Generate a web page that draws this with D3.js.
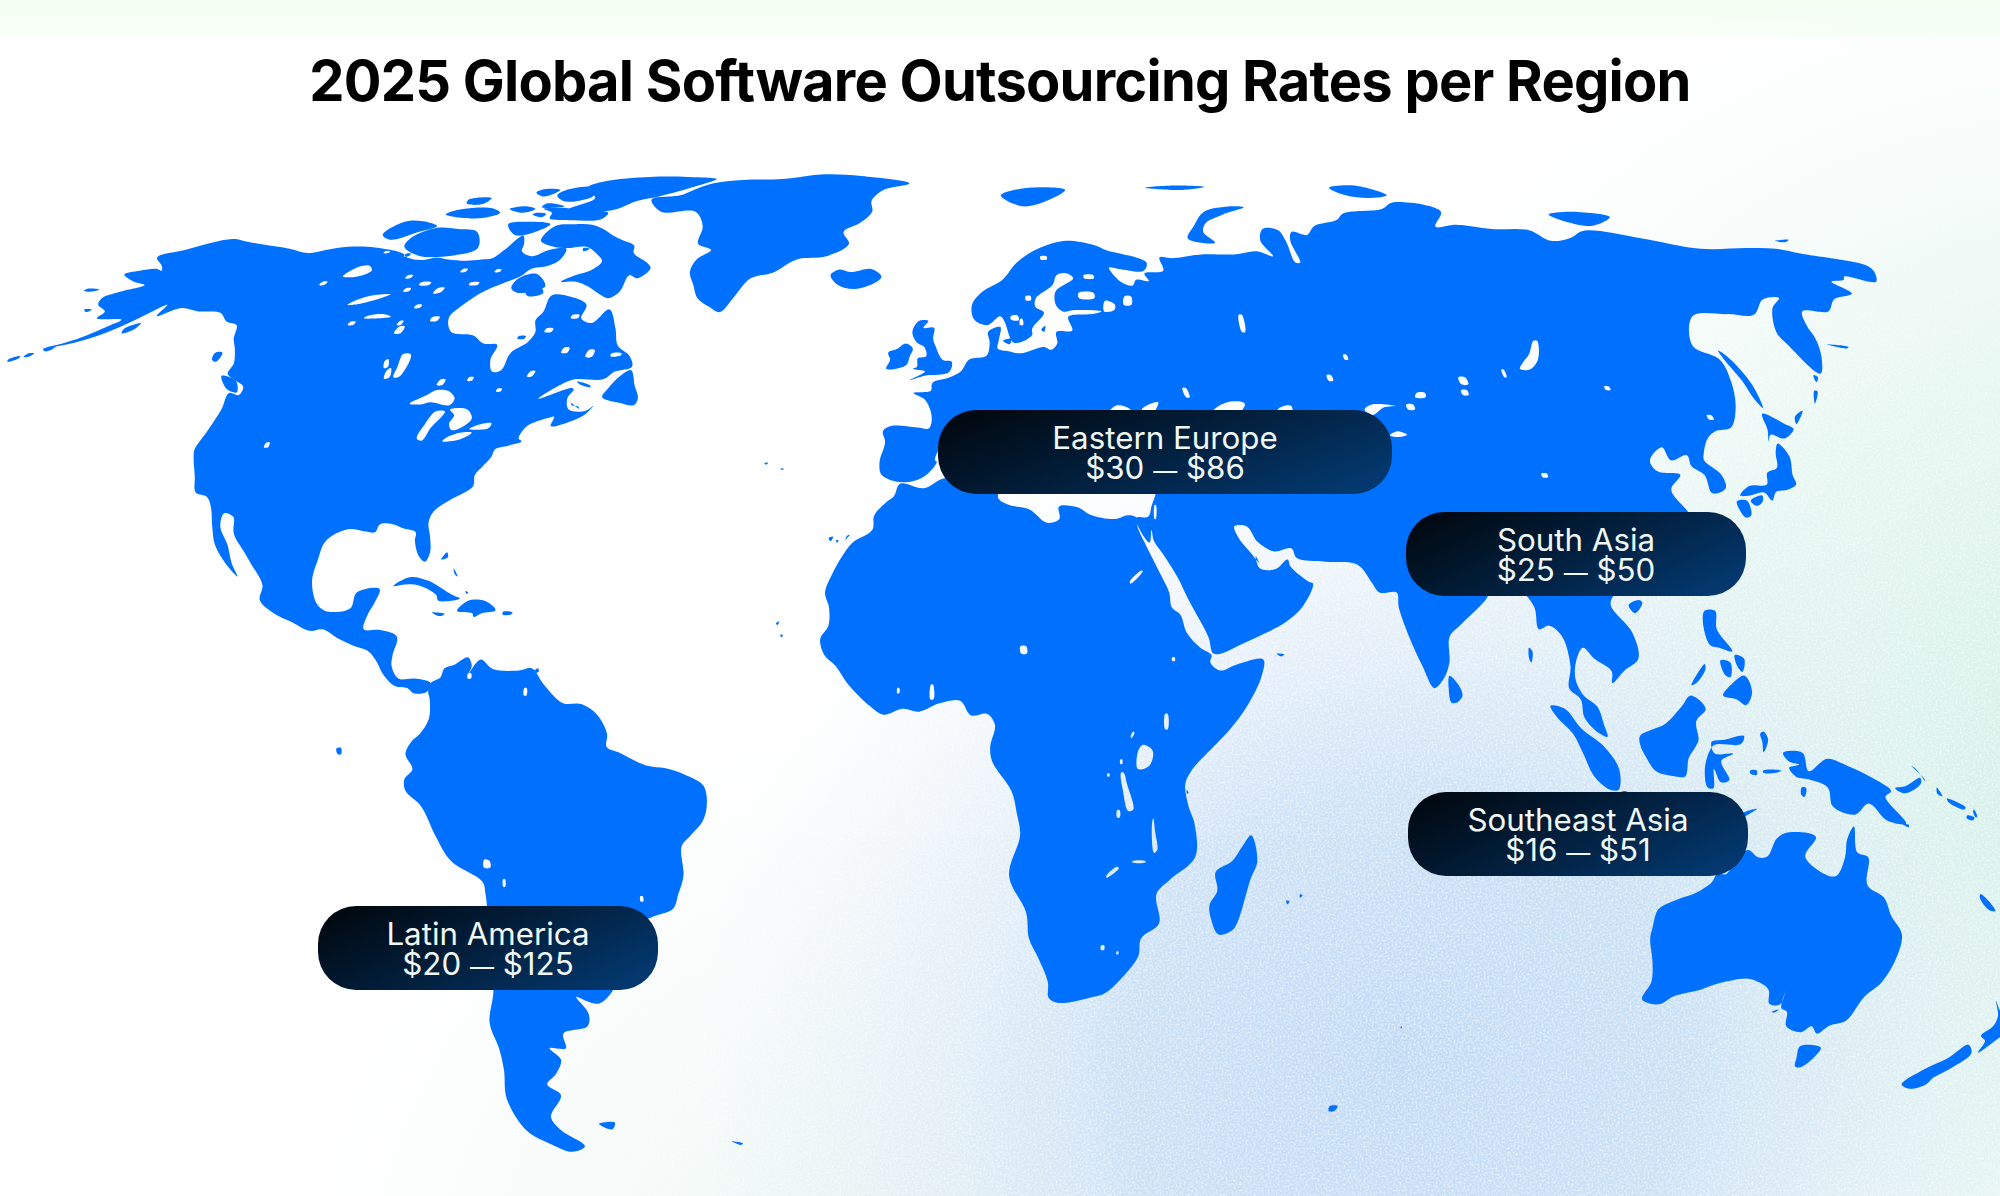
<!DOCTYPE html>
<html><head><meta charset="utf-8">
<script src="https://cdn.jsdelivr.net/npm/d3@7/dist/d3.min.js"></script>
<style>html,body{margin:0;padding:0;background:#fff}svg{display:block}</style>
</head><body><div id="chart"></div>
<script>
// ---- chart content
const chartTitle = "2025 Global Software Outsourcing Rates per Region";
const regions = ["Eastern Europe","South Asia","Southeast Asia","Latin America"];
const rateLow = [30,25,16,20];
const rateHigh = [86,50,51,125];

// ---- Robinson table
const robLat = [0,5,10,15,20,25,30,35,40,45,50,55,60,65,70,75,80,85,90];
const robLen = [1,.9986,.9954,.99,.9822,.973,.96,.9427,.9216,.8962,.8679,.835,.7986,.7597,.7186,.6732,.6213,.5722,.5322];
const robDepth = [0,.062,.124,.186,.248,.31,.372,.434,.4958,.5571,.6176,.6769,.7346,.7903,.8435,.8936,.9394,.9761,1];

// ---- landmasses, [lon,lat]
const northAmerica = [[-168,65.6],[-166,66.2],[-163,66.5],[-161.5,66.2],[-163,67],[-166.5,68.3],[-163,69.5],[-156.5,71.3],[-152,70.8],[-148,70.4],[-141,69.7],[-136,69],[-133,69.5],[-129,70],[-125,70],[-121,69.7],[-116,69],[-114,68.3],[-110,67.9],[-108,68.3],[-105,68],[-101,67.8],[-98,68],[-96,68.2],[-95,69.5],[-94,71.9],[-92,70.5],[-91,69.3],[-88,68.5],[-85.5,69.5],[-82,69.7],[-81.5,68],[-83,67],[-86,66.5],[-87,65.3],[-90,64],[-92,63],[-94,61],[-94.8,59],[-92.5,57],[-88,56.5],[-85,55.3],[-82.3,55.1],[-82,53],[-80.5,51.3],[-79,51.5],[-79,54],[-77,55.5],[-76.7,57],[-78,58.7],[-77.5,60],[-78,62.4],[-74,62.2],[-70,61],[-69.5,59],[-67,58.3],[-65,60.3],[-62,57.5],[-60,55],[-57,53.5],[-55.8,52],[-58.5,51.3],[-60,50.2],[-65,50.2],[-67,49.5],[-70,47.5],[-65,49],[-64.5,48.8],[-65,47.5],[-64,46],[-61,45.8],[-60,46.5],[-61,45.2],[-64,44],[-66,43.7],[-66,45],[-67,44.8],[-70,43.7],[-70.7,42],[-70,41.6],[-72,41],[-74,40.5],[-74.2,39.5],[-75.3,38],[-76,37],[-75.7,35.5],[-77,34.5],[-79,33.5],[-81,32],[-81.3,30.5],[-80.5,28.5],[-80,26.5],[-80.5,25.2],[-81.7,26],[-82.8,28],[-83,29.2],[-85,29.7],[-87,30.3],[-89,30.3],[-89.5,29.2],[-91,29.3],[-94,29.6],[-97,28],[-97.5,25.5],[-97.8,22.5],[-96.5,19.5],[-95,18.5],[-92,18.5],[-91,19],[-90.5,21],[-87,21.5],[-87.5,19.5],[-88.3,18],[-88.6,16],[-86,15.9],[-83.3,15],[-83.7,12.5],[-83.7,11],[-82.5,9.3],[-80,9.3],[-77.5,8.7],[-78,7.5],[-80,7.3],[-81,8],[-83,8.3],[-85,10],[-86,11.5],[-87.5,13],[-90,13.8],[-92.5,14.8],[-95,16],[-97,15.8],[-100,17],[-103,18.2],[-105.5,20],[-105.5,22],[-108,25],[-109.5,26.5],[-112,29],[-113,31.3],[-114.7,31.8],[-114.5,30],[-112.5,27.5],[-111,25],[-109.7,23.2],[-112,25],[-114.5,27.5],[-115.8,30],[-117.2,32.6],[-118.5,34],[-120.6,34.6],[-122,36.8],[-123.8,39.5],[-124.3,40.5],[-124,43],[-124,46],[-124.7,48.3],[-122.7,48],[-123,49.2],[-125,50],[-127.5,51],[-128,52.5],[-130,54.5],[-132,56],[-134,58],[-136.5,58.5],[-139.5,59.8],[-144,60],[-148,60.5],[-151,59.3],[-151.5,61],[-154,59],[-156,57.5],[-159,56],[-162.5,55],[-164.5,54.7],[-161,56],[-158,57.9],[-157,58.8],[-162,59],[-162,60],[-165,61],[-166,62],[-164,63],[-161,64],[-164,64.5]];
const northAmericaLakes = [
 [[-123,65.3],[-120,65.3],[-118.5,66.3],[-120,67],[-122,66.8]],
 [[-116.5,61],[-114,61.2],[-110,62.6],[-112.5,62.5],[-115,62]],
 [[-111,59],[-106,59.2],[-108,59.6],[-110.5,59.4]],
 [[-103,56.8],[-101.8,56.8],[-102,57.8],[-103,57.8]],
 [[-103.7,58],[-103,58],[-103,58.6],[-103.7,58.6]],
 [[-97.5,50.5],[-96.5,50.6],[-97,53.7],[-98.5,53.8],[-98,52]],
 [[-99,50.3],[-98.2,50.5],[-99,51.8],[-99.5,51.5]],
 [[-100.3,51.8],[-99.7,52],[-100.6,53.1],[-101,52.8]],
 [[-89,49.4],[-88,49.4],[-88,50.2],[-88.8,50.2]],
 [[-101.7,62.7],[-100.4,62.9],[-100.4,63.6],[-101.7,63.5]],
 [[-96,64],[-94.3,64],[-94.3,64.4],[-96,64.4]],
 [[-92,46.8],[-90,46.7],[-88.5,47],[-85,46.6],[-84.7,47.6],[-86.5,48.6],[-88.5,48.7],[-89.8,48]],
 [[-87.9,42],[-86.9,41.7],[-86.3,43.5],[-85.2,45.7],[-86.8,45.7],[-87.6,44]],
 [[-84.5,46],[-81.5,46],[-80,44.7],[-81.8,43.2],[-82.7,43.2],[-83.5,44],[-83.3,45.2]],
 [[-83.4,41.6],[-80.5,41.9],[-79,42.8],[-81,42.8],[-83,42.1]],
 [[-79.7,43.3],[-76.5,43.4],[-76.3,44.1],[-78,44]],
 [[-112.9,40.8],[-112.2,40.8],[-112.4,41.5],[-112.9,41.4]],
 [[-73.8,50.6],[-73,50.6],[-72.8,51.4],[-73.6,51.4]],
 [[-69.8,54],[-68.7,54],[-68.7,54.7],[-69.7,54.7]],
 [[-65,53.4],[-63.8,53.4],[-63.9,54.4],[-64.9,54.4]],
 [[-60.5,53.5],[-58.7,53.6],[-58.7,53.9],[-60.5,53.9]],
 [[-106,64],[-104,64],[-104,64.4],[-106,64.4]],
 [[-110,65],[-109,65],[-109,65.5],[-110,65.5]],
 [[-98,58.6],[-96.7,58.6],[-96.7,59.2],[-98,59.2]],
 [[-79.3,56],[-78,56],[-78,56.4],[-79.3,56.4]],
 [[-75,57],[-73.7,57],[-73.7,57.5],[-75,57.5]],
 [[-71.5,59],[-70.2,59],[-70.2,59.5],[-71.5,59.5]],
 [[-84,50],[-83.2,50],[-83.2,50.5],[-84,50.5]],
 [[-78,48.5],[-77.2,48.5],[-77.2,48.9],[-78,48.9]],
 [[-113,58],[-112,58],[-112,58.5],[-113,58.5]],
 [[-100,66],[-99,66],[-99,66.5],[-100,66.5]],
 [[-93,66],[-92,66],[-92,66.4],[-93,66.4]],
 [[-108,63],[-107,63],[-107,63.5],[-108,63.5]],
 [[-103,60.5],[-102,60.5],[-102,61],[-103,61]],
 [[-115,68.5],[-114,68.5],[-114,68.9],[-115,68.9]],
 [[-120,69],[-119,69],[-119,69.3],[-120,69.3]],
 [[-126,64],[-125,64],[-125,64.5],[-126,64.5]]
];
const baffin = [[-89,71],[-89,73.5],[-85,73.8],[-81,73.7],[-77,72.8],[-74,71.8],[-71,71],[-68,70.2],[-67,69],[-63,67.5],[-61.5,66.6],[-63,65],[-65,65.5],[-65,63],[-66.5,62],[-69,62.7],[-72,63.8],[-75,64.5],[-78,64.5],[-76,65.5],[-73.5,66.3],[-72.5,67.7],[-75,69],[-78,70],[-82,69.8],[-85,70]];
const victoriaIsland = [[-117,70],[-112,68.6],[-105,68.6],[-101,69.8],[-105,72.5],[-110,73],[-115,73.2],[-118,71.5]];
const banksIsland = [[-125,72],[-122,71.2],[-118,72.5],[-115.5,73.5],[-120,74.3],[-124,74.2]];
const ellesmere = [[-90,76.5],[-80,76.2],[-76,78],[-72,78.8],[-65,81],[-62,82.5],[-70,83],[-80,83],[-90,82],[-92,80.5],[-87,78.5]];
const devonIsland = [[-96,76.5],[-92,76.7],[-88,76.4],[-80,75.8],[-80,74.7],[-88,74.5],[-92,74.8],[-93,75.8]];
const axelHeiberg = [[-96,80.2],[-90,80.5],[-88,79],[-90,78],[-94,78],[-97,79]];
const melvilleIsland = [[-117,75.5],[-108,74.8],[-105,75.8],[-108,76.6],[-115,76.5]];
const somersetIsland = [[-100,73.8],[-96,72],[-93,72.2],[-90.5,73.8],[-95,74.2]];
const southampton = [[-87,65],[-84,65.7],[-80.5,63.8],[-85,62.8],[-87,63.5]];
const arcticSmall = [
 [[-103,79.5],[-100,78.8],[-98,80],[-102,80.2]],
 [[-116,77.5],[-112,77.4],[-112,78.5],[-117,78.2]],
 [[-104,76.5],[-100,75.8],[-98,76.5],[-101,77]],
 [[-97,77.5],[-92,77],[-92,76.9],[-97,76.8]],
 [[-97,75.5],[-94,75],[-94,75.6],[-96.5,75.8]],
 [[-81,63.5],[-80,62.8],[-82.5,62.3],[-83.5,62.8]],
 [[-78.5,69.8],[-77,69.7],[-78,69.3]]
];
const newfoundland = [[-59,47.7],[-55.5,46.9],[-53,46.6],[-52.7,47.6],[-54,49.3],[-55.7,51.5],[-57.3,50.6],[-58.5,49]];
const vancouverIsland = [[-128.3,50.7],[-125,50],[-123.4,48.4],[-125.5,48.8]];
const canadaSmall = [
 [[-133,54],[-131.7,54],[-131.5,52.7],[-132.5,53]],
 [[-64.5,49.9],[-62,49.4],[-61.7,49.1],[-63.5,49.4]],
 [[-154.5,57.5],[-152.5,58.3],[-152.5,57.3],[-154,56.8]],
 [[-171.5,63.4],[-168.8,63.3],[-169.5,63],[-171.5,63.1]],
 [[-166.5,60.3],[-165,60.3],[-165.5,59.9]],
 [[-167,53.9],[-166,53.9],[-166.3,53.4],[-167.2,53.4]],
 [[-165.2,54.5],[-163.5,55],[-163.5,54.4],[-164.5,54.2]],
 [[-169.5,53],[-168,53.5],[-167.8,53.2],[-169.2,52.7]],
 [[-173.5,52.3],[-172,52.4],[-172,52.1],[-173.5,52]],
 [[-177,51.9],[-175.5,52.1],[-175.5,51.8],[-177,51.7]],
 [[-62.5,46.4],[-63.8,46.6],[-64,46.9],[-62.3,46.1]],
 [[-78,25.5],[-77.3,26.5],[-77,25.8]],[[-75.5,23.5],[-75,23.2],[-75.8,24.3]],[[-73.5,21.2],[-73,21],[-73.2,20.8]]
];
const greenland = [[-73,78.2],[-68,76],[-60,76],[-56,73.5],[-54.5,70.5],[-51,69.5],[-53,68],[-53,66],[-51,64],[-49,62],[-46,60.7],[-43.5,59.9],[-42,62],[-40,65],[-36,65.9],[-32,68],[-26,68.5],[-22,70.5],[-24,72.5],[-21,74],[-19,76],[-20,78],[-18,80],[-12,81.5],[-25,83.2],[-35,83.6],[-45,82.5],[-55,82.3],[-62,81.5],[-65,80],[-67,79]];
const iceland = [[-24,65.5],[-22,64],[-18.5,63.4],[-14.5,64.4],[-13.6,65.3],[-16,66.5],[-20,66],[-22.5,66.4]];
const southAmerica = [[-77.5,8.7],[-76,9.5],[-75.5,10.7],[-74,11.2],[-72,12.2],[-71.3,11],[-71.7,10],[-70,11.9],[-68,10.6],[-64,10.4],[-62,10.7],[-60,8.5],[-57,6],[-54,5.8],[-51.5,4.3],[-50,1.8],[-50,0],[-48,-0.8],[-44,-2.5],[-41,-2.9],[-38,-3.8],[-35.3,-5.2],[-34.8,-7.5],[-35.5,-10],[-37.5,-12],[-39,-13.5],[-39,-17.5],[-40,-20],[-41,-22],[-44,-23],[-46.5,-24],[-48.5,-25.8],[-48.7,-28.5],[-50.5,-31],[-53,-33.8],[-55,-34.9],[-57,-34.5],[-58.4,-34],[-57,-36.3],[-57.7,-38],[-62,-39],[-62.3,-41],[-65,-41],[-63.7,-42.6],[-65.3,-44.5],[-67.5,-46],[-65.8,-47.5],[-69,-50.5],[-68.3,-52.4],[-65.2,-54.7],[-68,-55.5],[-71,-54.5],[-74.5,-52.5],[-75.5,-48],[-74,-44],[-73.5,-41],[-73.7,-37.5],[-71.6,-33],[-71.5,-29.5],[-70.5,-25],[-70.2,-20],[-70.5,-18.3],[-75,-15.5],[-77,-12.2],[-79,-8],[-81.2,-6],[-81.3,-4.4],[-80,-3],[-81,-1],[-80,0.8],[-78.8,1.8],[-77.5,3.8],[-77.5,6.5],[-77.8,7.5]];
const southAmericaLakes = [
 [[-70,-16.4],[-69,-16.4],[-69,-15.5],[-69.8,-15.3]],
 [[-67.3,-19],[-67,-19],[-66.9,-18],[-67.2,-18]],
 [[-71.8,10],[-71.3,10],[-71.3,9.3],[-71.8,9.3]],
 [[-63,8],[-62.6,8],[-62.6,7],[-63,7]],
 [[-46,-21],[-45.6,-21],[-45.6,-20.3],[-46,-20.3]]
];
const africa = [[-5.9,35.8],[-2,35.2],[1,36.5],[5,36.9],[10,37.3],[11,36.9],[10.3,35],[10.2,33.8],[12,32.9],[15.2,32.3],[18,30.5],[20,31],[20,32.7],[23,32.6],[25,31.6],[29,31],[31,31.5],[32.4,31.2],[32.5,29.9],[33.5,27.8],[35.5,24],[37,21],[37.3,19],[38.6,18],[39.5,15.5],[41.5,13.5],[43.2,12.5],[43,11.5],[44.5,10.4],[47,11.2],[51.2,11.9],[50.8,9.5],[48.5,5.5],[46,2.5],[42,-1.2],[40.3,-2.8],[39,-5],[39.5,-8],[40.5,-10.5],[40.7,-15],[37,-18],[34.9,-20],[35.5,-24],[32.8,-26],[32.5,-28.5],[30.5,-31],[27.5,-33.5],[25.6,-34],[20,-34.8],[18.4,-34.1],[18.2,-32],[16.5,-28.6],[15,-26],[14.5,-22.5],[11.8,-17.5],[13.5,-12],[13,-9],[12.2,-6],[9.3,-2],[9,0],[9.7,3],[8.5,4.5],[6,4.3],[4.3,6.3],[1,5.9],[-2,4.8],[-4.5,5.2],[-7.5,4.4],[-9.5,5.5],[-13,8.5],[-15,11],[-16.8,12.5],[-17.5,14.7],[-16.3,16.5],[-16.3,19],[-17,21],[-16,23.5],[-14.5,26],[-13,27.8],[-10,29.5],[-9.8,31.5],[-8,33.3],[-6.8,34.1]];
const africaLakes = [
 [[31.7,-3],[33.5,-2.5],[34,-0.5],[32.5,0.3],[31.7,-0.7]],
 [[30.2,-8.7],[31,-8.5],[30,-5],[29.5,-3.5],[29.1,-3.5],[29.4,-6]],
 [[34.3,-14.4],[34.8,-14],[34.4,-11.5],[34.1,-9.7],[33.9,-10.5]],
 [[35.9,2.4],[36.3,2.4],[36.3,4.5],[35.9,4.5]],
 [[13.7,12.7],[14.6,12.7],[14.5,13.7],[13.6,13.7]],
 [[28.5,-9.6],[28.9,-9.6],[28.9,-8.6],[28.5,-8.6]],
 [[27,-17.8],[28.9,-16.5],[28.6,-16.3],[27,-17.5]],
 [[31,-15.7],[33,-15.7],[33,-15.5],[31,-15.5]],
 [[37.1,11.7],[37.5,11.7],[37.5,12.2],[37.1,12.2]],
 [[30.7,1.2],[31.2,1.9],[31,2.1],[30.6,1.4]],
 [[29,-2.3],[29.3,-2.3],[29.3,-1.7],[29,-1.7]],
 [[31,22.2],[33,23.9],[32.8,24],[30.9,22.5]],
 [[-0.3,6.5],[0.2,6.5],[0.1,8.5],[-0.2,8.5]],
 [[-5.4,7.3],[-5.1,7.3],[-5.1,8],[-5.4,8]],
 [[26.5,-27.6],[27,-27.6],[27,-27],[26.5,-27]],
 [[29,-28.2],[29.3,-28.2],[29.3,-27.8],[29,-27.8]],
 [[27,-4],[27.3,-4],[27.3,-3.6],[27,-3.6]]
];
const madagascar = [[49.3,-12],[50.4,-15.5],[49.5,-18],[47.8,-24],[47,-25],[45,-25.5],[43.7,-23.5],[43.3,-21.5],[44.4,-19.5],[44,-17],[46.5,-15.5],[48,-13.5]];
const eurasia = [[-5.5,36],[-9,37],[-9.5,38.7],[-8.8,41.5],[-9.3,43],[-8,43.7],[-3.5,43.5],[-1.5,43.4],[-1.2,45],[-2.5,47.3],[-4.7,48.3],[-1.7,48.6],[-1.5,49.7],[1.5,50.5],[3.5,51.4],[4.8,53],[8,53.6],[8.5,55.5],[8.2,57],[10.5,57.7],[10.2,55.8],[10,54.6],[12,54.2],[14.2,53.9],[18.5,54.8],[19.8,54.4],[21,55.3],[21,57],[24,57.2],[23.5,59.2],[28,59.6],[30,60],[25,60.2],[22.5,60],[21.3,61],[21.5,63],[25.3,65],[24,65.8],[22,65.5],[21,64],[17.5,62],[17.3,60.7],[18.9,59.8],[16.5,57.5],[16.4,56.5],[14.3,55.5],[12.8,55.5],[11.3,58.5],[10.5,59.3],[8,58],[5.5,58.8],[5,61],[7,63],[11,64.8],[14,67.5],[18,69.5],[23,70.8],[26,71],[31,70.2],[33,69.5],[41,67.5],[40,66.2],[35,66.5],[33,66.7],[34.8,64.5],[37,63.9],[38,64.8],[40.5,64.6],[40,65.8],[44,66.2],[44,68.3],[46.5,68.2],[53,68.8],[60,68.8],[65,69.3],[68,68.5],[67,71],[69,73],[72.3,72.8],[72.5,71],[72,67.5],[73,67.5],[73.5,71],[75,72.5],[78,72],[81,73.5],[87,74.5],[90,75.7],[100,76.5],[104.3,77.7],[113,76],[108,73.4],[113,73.7],[120,73],[128,72.8],[130,71],[135,71.5],[140,72.7],[150,71.5],[160,69.7],[170,69.8],[176,69.7],[180,68.9],[190,67],[189.5,66],[187,64.5],[182,65.3],[181,64.8],[178,64.5],[179,62.7],[174,61.8],[170,60],[165,60],[163,58],[162,56],[160,53.5],[157,51],[155.7,55],[156,57],[160,60.5],[163.5,62],[160,61.8],[155,59.5],[150,59.6],[143,59.3],[138,55],[141,53],[140,50],[138,46.5],[135,43.5],[132,43],[130,42],[128,40],[127.5,39],[129.3,37],[129,35.2],[126.5,34.5],[126.5,37],[125,38.2],[125,39.7],[122,39],[121.5,40.8],[118.5,39],[119,37.5],[122.5,37],[120,35],[121.5,32],[122,30],[120,26.5],[117,23.5],[114,22.3],[110.5,21],[108,21.5],[106,19.5],[108.8,15.5],[109.3,12],[107,10.4],[105,8.7],[105,10.3],[102.5,12],[100.9,13.5],[100,12.5],[99.3,9.5],[100.5,7],[102.5,5.5],[103.5,3],[104,1.4],[102.5,2],[100.5,4],[100,6.5],[98.3,8],[98.7,11],[97.8,15],[96,16.5],[94.3,16],[94,19],[92,21.5],[90,22],[88,21.8],[86.5,20],[82.3,16.7],[80.3,15],[80,11.5],[79,9.3],[77.5,8],[75.8,11],[74,15],[72.8,19],[72.7,21],[70,21],[69,22.3],[67,24.8],[62,25.2],[57.5,25.7],[56.8,27],[54,26.6],[51.5,27.9],[50,30],[48,30],[48.5,28.5],[50.2,26.5],[51.5,25],[51,26],[51.5,24.3],[54,24.2],[56,25.5],[56.4,24.5],[59,22.5],[59.7,22.2],[57.7,19],[55,17],[52,15.6],[48,14],[45,12.8],[43.5,12.7],[42.8,15],[40,20],[38.5,23],[36.5,26],[35,28],[34.7,29.5],[34.3,27.8],[32.7,29.8],[32.4,31.2],[34.3,31.3],[35,32.8],[36,35],[36,36.7],[34,36.2],[31,36.8],[29,36.3],[27.5,37],[26.3,39],[26.2,40],[23,40.5],[24,38],[23,36.5],[21.5,37],[19.5,41],[18.5,42.5],[14,45],[12.3,45.3],[12.5,44],[16,41.7],[18.4,40],[17,40.4],[16.6,38.9],[16,38],[15.7,40],[12.3,41.7],[10.5,43],[8.8,44.4],[6,43.1],[3.5,43.3],[3.2,42],[0.5,40.7],[-0.3,39],[0,38.8],[-2,36.8]];
const eurasiaLakes = [
 [[28,41.7],[31,41.2],[35,42],[38,41],[41.5,41.6],[39,44],[37,45],[38,47],[35,46],[36,45.2],[33.5,44.5],[33,46],[30.5,46.5],[28,44],[27.5,42.5]],
 [[47,45.5],[50,47],[53,46.8],[51.5,45],[51,43],[53,41.5],[53.8,39],[54,37],[50,37.4],[49,38.5],[49.5,40.5],[47.5,43]],
 [[58.5,46],[61,46.5],[60,44],[58.5,44]],
 [[103.8,51.7],[105.5,51.6],[108,53],[110,55.7],[109.3,55.7],[107,53.8],[105,52.6]],
 [[73.5,46],[75,46.7],[79,46.5],[77,46.3],[74.5,45.2]],
 [[30.5,60],[32.5,60.2],[32.8,61],[31,61.6]],
 [[34.5,61],[36,61],[36.3,62.2],[35,62.3]],
 [[12.5,58.8],[14,58.7],[13.8,59.4],[12.5,59.3]],
 [[14.2,58],[14.8,58],[14.7,58.9],[14.3,58.9]],
 [[55.8,57],[56.4,57],[56.8,59.5],[56.2,59.5]],
 [[78,43],[79.5,42.5],[78,42.2],[76.5,42.4]],
 [[100.2,50.5],[100.6,50.5],[100.8,51.6],[100.4,51.6]],
 [[43,47.7],[43.6,47.7],[43.2,49],[42.6,49]],
 [[83,47.7],[84.8,47.7],[85,48.3],[83.5,48.3]],
 [[81,46],[82.2,46],[82.2,46.7],[81,46.7]],
 [[92,49.5],[93.2,49.5],[93.2,50.5],[92,50.5]],
 [[91.5,48],[92.5,48],[92.5,48.7],[91.5,48.7]],
 [[117,48.7],[117.8,48.7],[117.8,49.2],[117,49.2]],
 [[132,44.6],[132.8,44.6],[132.8,45.2],[132,45.2]],
 [[68.7,50],[69.5,50],[69.5,50.8],[68.7,50.8]],
 [[73,53],[73.6,53],[73.6,53.7],[73,53.7]],
 [[99.7,36.7],[100.6,36.7],[100.6,37.2],[99.7,37.2]],
 [[89,36.5],[89.5,36.5],[89.5,31],[89,31]].slice(0,0).concat([[88.5,31],[89.5,31],[89.5,31.5],[88.5,31.5]]),
 [[43,40.3],[45.7,40.5],[45,39.8]],
 [[38,38.5],[40,38.5],[40,39],[38,39]],
 [[35.5,32.9],[35.7,32.9],[35.5,31],[35.3,31]],
 [[15.5,61.7],[16.5,61.7],[16.5,62.3],[15.5,62.3]],
 [[26,62],[29,62],[29,62.8],[26,62.8]],
 [[27.5,65],[29.5,65],[29.5,65.5],[27.5,65.5]],
 [[19,68],[20.3,68],[20.3,68.5],[19,68.5]],
 [[114,43],[115,43],[115,43.5],[114,43.5]].slice(0,0).concat([[116,31.1],[116.5,31.1],[116.5,29.2],[116,29.2]])
];
const novayaZemlya = [[51.5,71.5],[53,70.8],[57,70.7],[55.5,72.5],[57,74],[62,75.5],[68,76.8],[66,77],[58,76],[54,73.5]];
const svalbard = [[11,79],[16,77],[22,78],[27,80],[18,80.5]];
const franzJosef = [[47,80.5],[55,81],[62,80.7],[55,80]];
const severnaya = [[95,79],[100,78.5],[105,79],[100,81],[93,80.5]];
const newSiberian = [[137,75.5],[143,73.5],[150,75],[143,76]];
const wrangel = [[178.5,71],[182,71.2],[180.5,70.8]];
const sakhalin = [[142,54.3],[143,53],[143.3,49.5],[142.5,46.2],[142,47.5],[142,50],[141.8,53]];
const honshu = [[130.9,34.2],[133,35.5],[136,35.7],[137,37.3],[139,38],[140,40],[141.3,41.3],[142,39.5],[141,37],[140.8,35.7],[139,35],[137,34.7],[135.8,33.5],[135,34.6],[132.5,34.2]];
const hokkaido = [[140,41.6],[141,43.2],[141.7,45.4],[144.5,44],[145.5,43.3],[143,42],[141,42.5]];
const kyushu = [[130,33.4],[131.7,33.5],[131.5,31.5],[130.5,31.2]];
const shikoku = [[132.3,33.5],[134.5,34.2],[134.2,33.4],[133,32.8]];
const taiwan = [[121,25.2],[122,25],[120.9,22],[120.2,23]];
const hainan = [[108.8,19.3],[110.5,20],[111,19.6],[109.6,18.2]];
const sriLanka = [[79.9,9.7],[81.2,8.5],[81.8,7],[81,6.1],[80.1,6],[79.7,8]];
const greatBritain = [[-5.5,50.1],[-3,50.7],[1.3,51.2],[1.7,52.7],[0,53],[-1.5,55],[-2,56],[-2,57.6],[-4,57.6],[-3.2,58.6],[-5,58.6],[-6,57],[-5,55.5],[-3.5,54.8],[-3,53.5],[-4.5,53.2],[-4.5,52],[-5.2,51.7],[-3,51.3]];
const ireland = [[-10,51.7],[-6.5,52.2],[-6,53.5],[-5.6,54.6],[-7,55.3],[-8.5,54.5],[-10,54],[-9.5,53]];
const cuba = [[-84.9,21.9],[-82.5,23.1],[-79.5,22.6],[-75.5,20.7],[-74.2,20.2],[-77.5,19.9],[-78,20.7],[-81,22],[-83,22.1]];
const hispaniola = [[-74.4,18.5],[-72.8,19.9],[-70,19.8],[-68.4,18.6],[-70.5,18.2],[-71.7,17.7],[-72,18.2]];
const jamaica = [[-78.3,18.3],[-76.3,18.1],[-77,17.8]];
const puertoRico = [[-67.2,18.4],[-65.7,18.3],[-66,18],[-67.2,18]];
const sumatra = [[95.3,5.6],[97.5,5.2],[100,2.5],[103.5,0],[105.8,-3],[105.8,-5.8],[104.5,-5.8],[102,-4],[100.3,-1],[98.7,1.8],[96.5,3.8]];
const java = [[105.2,-6.8],[106.7,-6],[108.5,-6.7],[110.8,-6.4],[112.7,-7],[114.5,-7.8],[114.5,-8.7],[110,-8.1],[106.5,-7.4]];
const borneo = [[109,1.5],[111.3,2.5],[113,3.2],[115.5,5.5],[117,7],[119.2,5.2],[117.7,3.5],[118,1],[117.5,0],[116.5,-1.5],[116,-4],[114.5,-4],[111.5,-3.3],[110,-1.5],[109,0.3]];
const sulawesi = [[119.5,-5.5],[120.4,-5.6],[120.4,-3],[121.5,-4.8],[122.8,-4.5],[121.5,-1.9],[123.3,-0.9],[120.5,-0.9],[120,0.7],[122,1],[125,1.5],[124.5,0.4],[120.5,0.3],[119.7,-0.5],[119,-3]];
const newGuinea = [[131,-0.8],[134,-0.8],[135,-3.3],[137.8,-1.6],[141,-2.6],[145,-4.3],[147.8,-6],[147,-6.8],[150.5,-10.4],[147.5,-10],[144.5,-7.7],[142.5,-9.2],[139,-8.1],[138,-5.5],[135,-4.4],[133,-4],[132,-2.8],[133.5,-2.4],[132,-2]];
const luzon = [[120.5,18.5],[122.2,18.5],[122,16],[124,13],[122,13.5],[120.7,13.8],[120,16]];
const mindanao = [[122,7],[123.5,8.6],[125.5,9.7],[126.5,7.5],[125.5,5.7],[124,6.5]];
const palawan = [[117.2,8.4],[119.5,11.3],[119.5,10.5],[118,8.7]];
const australia = [[113.7,-22.5],[114.2,-21.8],[117,-20.6],[119,-20],[121.5,-18.5],[122.3,-17.2],[123.6,-17.3],[124.8,-15.5],[126.5,-14],[128.2,-15],[129.6,-14.9],[130.8,-12.4],[132.5,-11.6],[136.8,-12.2],[135.5,-14.9],[139.3,-17.4],[140.9,-17.5],[141.7,-15],[141.7,-12.5],[142.5,-10.8],[143.5,-14.3],[145.3,-15],[146,-18.8],[149,-20.5],[150.8,-23],[153.2,-25.5],[153.6,-28.5],[152.8,-32],[151,-34],[150,-37.2],[147.7,-37.9],[146.3,-39],[144.8,-38],[143.5,-38.8],[140.6,-38],[139.5,-36],[138.3,-35.5],[137.8,-33],[137.8,-35],[136,-34.9],[135,-33],[133,-32],[131,-31.5],[126,-32.3],[124,-33],[120,-33.9],[118,-35],[115,-34.3],[115.6,-32],[114.9,-29.5],[113.5,-26],[113.5,-24.5]];
const tasmania = [[144.7,-40.7],[148.3,-40.9],[148.2,-42.3],[147,-43.6],[146,-43.5],[145.3,-42.3]];
const northIslandNZ = [[172.7,-34.5],[174.5,-36],[175.5,-36.7],[176,-37.7],[178.5,-37.7],[177,-39.6],[175.3,-41.6],[175,-40],[173.8,-39.3],[174.8,-38],[174.5,-36.5]];
const southIslandNZ = [[172.7,-40.5],[174.3,-41.7],[172.8,-43.7],[171,-45],[170.7,-46],[168.5,-46.6],[166.5,-46],[168.2,-44],[171,-42.3]];
const smallIslands = [
 [[122,11.8],[123.5,11.5],[123.3,9.5],[122.5,9.8]],[[124.3,12.5],[125.7,12],[125.2,10.2],[124.5,11]],
 [[123.6,-10.3],[125,-9],[127.3,-8.4],[125,-9.7]],[[119.9,-8.5],[123,-8.3],[122.5,-8.8],[120,-8.9]],
 [[116.8,-8.9],[119,-8.4],[119,-8.8],[117,-9.1]],[[119,-9.6],[120.8,-10],[120,-10.3]],
 [[127.5,1.8],[128,2.1],[128.7,1],[128,-0.7],[127.8,0.7]],[[128,-3.2],[130.8,-3.2],[130,-3.5],[128,-3.5]],
 [[126,-3.2],[127,-3.2],[127,-3.8],[126,-3.6]],[[134,-5.5],[134.7,-5.6],[134.5,-6.8],[134,-6.5]],
 [[148.4,-5.6],[150,-5.3],[152.2,-4.2],[152.3,-5],[150,-6.3]],[[150.8,-2.6],[152.8,-4.3],[153,-4.7],[151.5,-3]],
 [[156.5,-7],[159.5,-8.2],[159.3,-8.5],[156.8,-7.5]],[[159.8,-9.3],[161,-9.6],[160.7,-10],[159.8,-9.7]],[[160.8,-8.5],[161.4,-9.5],[161.2,-9.6],[160.7,-8.8]],
 [[167,-15],[167.5,-16],[167,-16]],[[164,-20],[167,-22.3],[166,-22.2],[164,-20.5]],[[177.3,-17.7],[178.6,-18],[178,-18.3],[177.3,-18.2]],
 [[-61,-51.5],[-58,-51.3],[-59,-52.3]],[[-38,-54],[-36,-54.3],[-36.5,-54.5]],[[53.3,12.7],[54.5,12.6],[54,12.3]],
 [[68.9,-49],[70.3,-49],[70,-49.7],[69,-49.7]],[[55.3,-20.9],[55.8,-21],[55.5,-21.4]],[[57.4,-20],[57.8,-20.2],[57.4,-20.5]],
 [[-91.6,-0.2],[-90.9,-0.1],[-90.9,-1],[-91.4,-1]],[[-61,10.7],[-60.9,10.2],[-61.9,10.1]],
 [[-16.9,28.4],[-16.2,28.6],[-16.5,28]],[[-15.7,28.1],[-15.3,28.1],[-15.5,27.8]],[[-14,28.7],[-13.5,28.9],[-14.2,28.2]],
 [[-24.5,16.8],[-24,17.1],[-24.2,16.6]],[[-23.7,15.3],[-23.3,15.2],[-23.6,14.9]],[[-25.8,37.9],[-25.2,37.8],[-25.5,37.7]],[[-28.6,38.6],[-28,38.7],[-28.2,38.4]],
 [[92.5,13.5],[93,13],[92.7,11.5],[92.4,12]],[[39.2,-5.8],[39.5,-6.2],[39.3,-6.4]],
 [[146.5,44],[148,45],[149,45.8],[147,45]],[[152,46.8],[154,48.5],[153.5,48.6]],[[155,49.8],[156,50.5],[155.5,50.8]],
 [[163,55.2],[166.5,54.8],[166,54.6]],[[150,-10.5],[151,-10.6],[151,-10.9]],[[154.8,-5.5],[155.8,-6.7],[155,-6.4]],
 [[167.5,-13.5],[168,-14.5],[167.7,-14.5]],[[168,-16],[168.5,-17.5],[168.2,-17]],
 [[76.9,-38],[77.1,-38.2],[76.9,-38.3]],[[11,55.7],[12.5,56],[12.2,55.2]],[[18.2,57.3],[19,57.9],[18.7,57]],
 [[137,-36],[138,-35.7],[137.5,-36.1]]
];

const landmasses = [
 [northAmerica,...northAmericaLakes],[baffin],[victoriaIsland],[banksIsland],[ellesmere],[devonIsland],[axelHeiberg],[melvilleIsland],[somersetIsland],[southampton],
 ...arcticSmall.map(r=>[r]),[newfoundland],[vancouverIsland],...canadaSmall.map(r=>[r]),[greenland],[iceland],[southAmerica,...southAmericaLakes],[africa,...africaLakes],[madagascar],
 [eurasia,...eurasiaLakes],[novayaZemlya],[svalbard],[franzJosef],[severnaya],[newSiberian],[wrangel],[sakhalin],[honshu],[hokkaido],[kyushu],[shikoku],[taiwan],[hainan],[sriLanka],[greatBritain],[ireland],
 [cuba],[hispaniola],[jamaica],[puertoRico],[sumatra],[java],[borneo],[sulawesi],[newGuinea],[luzon],[mindanao],[palawan],[australia],[tasmania],[northIslandNZ],[southIslandNZ],
 ...smallIslands.map(r=>[r])
];

// ---- layout
const W = 2000, H = 1196;
const pillBox = [[938,410,454],[1406,512,340],[1408,792,340],[318,906,340]];
const pillH = 84;

const svg = d3.select("#chart").append("svg").attr("width",W).attr("height",H).attr("viewBox",`0 0 ${W} ${H}`);
const defs = svg.append("defs");
function radial(id,cx,cy,r,stops){
  const g = defs.append("radialGradient").attr("id",id).attr("gradientUnits","userSpaceOnUse").attr("cx",cx).attr("cy",cy).attr("r",r);
  stops.forEach(s=>g.append("stop").attr("offset",s[0]).attr("stop-color",s[1]).attr("stop-opacity",s[2]));
}
radial("blueGlow",1400,1060,700,[[0,"#b4d2f3",.82],[.4,"#bdd8f4",.72],[.7,"#d4e4f6",.4],[1,"#e6eff9",0]]);
radial("tealGlow",2080,780,850,[[0,"#c6eee0",.85],[.5,"#d8f2ea",.6],[1,"#f0f8f6",0]]);
radial("lowGlow",900,1320,640,[[0,"#dbefe8",.7],[1,"#eef7f4",0]]);
radial("noiseMask",1450,1000,1100,[[0,"#fff",1],[.68,"#fff",.85],[1,"#fff",0]]);
const strip = defs.append("linearGradient").attr("id","topStrip").attr("x1",0).attr("x2",0).attr("y1",0).attr("y2",1);
strip.append("stop").attr("offset",0).attr("stop-color","#f5fff3");
strip.append("stop").attr("offset",.9).attr("stop-color","#f8fff7");
strip.append("stop").attr("offset",1).attr("stop-color","#ffffff");
const pg = defs.append("linearGradient").attr("id","pillFill").attr("x1",0).attr("y1",.25).attr("x2",1).attr("y2",.75);
pg.append("stop").attr("offset",0).attr("stop-color","#010a13");
pg.append("stop").attr("offset",.5).attr("stop-color","#02203f");
pg.append("stop").attr("offset",1).attr("stop-color","#03386f");
const filt = defs.append("filter").attr("id","grain").attr("x",0).attr("y",0).attr("width","100%").attr("height","100%");
filt.append("feTurbulence").attr("type","fractalNoise").attr("baseFrequency",.5).attr("numOctaves",2).attr("seed",4);
filt.append("feColorMatrix").attr("type","matrix").attr("values","0 0 0 0 1  0 0 0 0 1  0 0 0 0 1  2.4 0 0 0 -.9");
const mk = defs.append("mask").attr("id","grainMask");
mk.append("rect").attr("width",W).attr("height",H).attr("fill","url(#noiseMask)");

const bg = svg.append("g");
bg.append("rect").attr("width",W).attr("height",H).attr("fill","#fff");
bg.append("rect").attr("width",W).attr("height",38).attr("fill","url(#topStrip)");
bg.append("rect").attr("width",W).attr("height",H).attr("fill","url(#lowGlow)");
bg.append("rect").attr("width",W).attr("height",H).attr("fill","url(#tealGlow)");
bg.append("rect").attr("width",W).attr("height",H).attr("fill","url(#blueGlow)");
bg.append("rect").attr("y",835).attr("width",W).attr("height",H-835).attr("fill","url(#blueGlow)").attr("opacity",.14);
bg.append("g").attr("mask","url(#grainMask)").append("rect").attr("width",W).attr("height",H).attr("filter","url(#grain)").attr("opacity",.6);

// ---- projection through scales
const lenAt = d3.scaleLinear().domain(robLat).range(robLen);
const depthAt = d3.scaleLinear().domain(robLat).range(robDepth);
const xScale = d3.scaleLinear().domain([-180,180]).range([931.7-1170,931.7+1170]);
const yScale = d3.scaleLinear().domain([0,1]).range([747,747-593]);
const xDrift = d3.scaleLinear().domain([-90,-55,-30,0,25,43,66,81,90]).range([10,8,3,0,2,6,17,25,28]);
const project = ([lon,lat])=>{
  const sign = lat<0?-1:1, a=Math.abs(lat);
  return [xScale(lon*lenAt(a))+xDrift(lat), yScale(sign*depthAt(a))];
};
const coast = d3.line().curve(d3.curveCatmullRomClosed.alpha(.5));

svg.append("g").selectAll("path").data(landmasses).join("path")
  .attr("d",rings=>rings.map(r=>coast(r.map(project))).join(""))
  .attr("fill","#0071fe").attr("fill-rule","evenodd");

// ---- title
svg.append("text").attr("x",1000).attr("y",101).attr("text-anchor","middle")
  .attr("font-family","Inter").attr("font-weight",700).attr("font-size",56).attr("letter-spacing",-.77).attr("fill","#000").text(chartTitle);

// ---- pills
const pills = svg.append("g").selectAll("g").data(regions).join("g");
pills.append("rect").attr("x",(d,i)=>pillBox[i][0]).attr("y",(d,i)=>pillBox[i][1]).attr("width",(d,i)=>pillBox[i][2]).attr("height",pillH)
  .attr("rx",38).attr("fill","url(#pillFill)");
pills.append("text").attr("x",(d,i)=>pillBox[i][0]+pillBox[i][2]/2).attr("y",(d,i)=>pillBox[i][1]+39).attr("text-anchor","middle")
  .attr("font-family","Inter").attr("font-size",31.3).attr("fill","#f0f8f6").text(d=>d);
const second = pills.append("text").attr("x",(d,i)=>pillBox[i][0]+pillBox[i][2]/2).attr("y",(d,i)=>pillBox[i][1]+69).attr("text-anchor","middle")
  .attr("font-family","Inter").attr("font-size",31.3).attr("fill","#f0f8f6");
second.append("tspan").text((d,i)=>`$${rateLow[i]} `);
second.append("tspan").attr("font-size",24).text("—");
second.append("tspan").text((d,i)=>` $${rateHigh[i]}`);
</script></body></html>
